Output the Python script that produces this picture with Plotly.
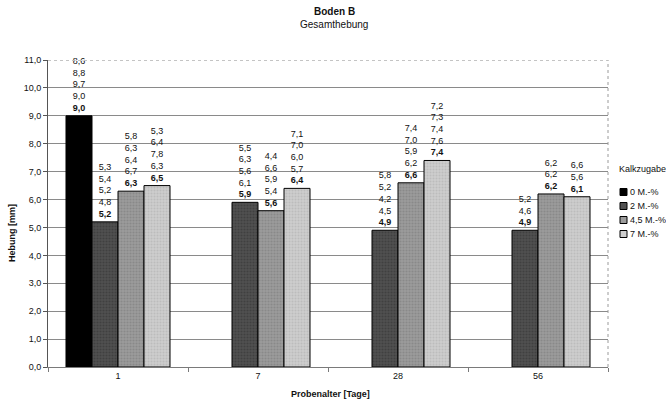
import plotly.graph_objects as go

# Probenalter (days) on the x axis
categories = ["1", "7", "28", "56"]

# Series: lime addition (Kalkzugabe)
series_names = ["0 M.-%", "2 M.-%", "4,5 M.-%", "7 M.-%"]

# Mean heave per series (bar heights, mm); None = no sample
mean_0 = [9.0, None, None, None]
mean_2 = [5.2, 5.9, 4.9, 4.9]
mean_45 = [6.3, 5.6, 6.6, 6.2]
mean_7 = [6.5, 6.4, 7.4, 6.1]

# Single measurements listed above each bar
single_0 = [[8.6, 8.8, 9.7, 9.0], None, None, None]
single_2 = [[5.3, 5.4, 5.2, 4.8], [5.5, 6.3, 5.6, 6.1], [5.8, 5.2, 4.2, 4.5], [5.2, 4.6]]
single_45 = [[5.8, 6.3, 6.4, 6.7], [4.4, 6.6, 5.9, 5.4], [7.4, 7.0, 5.9, 6.2], [6.2, 6.2]]
single_7 = [[5.3, 6.4, 7.8, 6.3], [7.1, 7.0, 6.0, 5.7], [7.2, 7.3, 7.4, 7.6], [6.6, 5.6]]

y_ticks = [float(v) for v in range(0, 12)]

means = [mean_0, mean_2, mean_45, mean_7]
singles = [single_0, single_2, single_45, single_7]
fills = ["#000000", "#505050", "#9c9c9c", "#cdcdcd"]
grain = ["#000000", "#303030", "#767676", "#acacac"]


def fmt(v):
    return f"{v:.1f}".replace(".", ",")


def bar_text(mean_list, single_list):
    out = []
    for m, s in zip(mean_list, single_list):
        if m is None:
            out.append("")
            continue
        lines = [fmt(v) for v in s] + [f"<b>{fmt(m)}</b>"]
        out.append("<br>".join(lines))
    return out


FONT = "Liberation Sans, Arial, sans-serif"

fig = go.Figure()
for name, m, s, col, g in zip(series_names, means, singles, fills, grain):
    fig.add_trace(go.Bar(
        name=name,
        x=categories,
        y=m,
        text=bar_text(m, s),
        textposition="outside",
        textangle=0,
        constraintext="none",
        cliponaxis=False,
        textfont=dict(family=FONT, size=9, color="#111111"),
        marker=dict(
            color=col,
            line=dict(color="#000000", width=1),
            pattern=dict(shape="." if col != "#000000" else "",
                         fgcolor=g, bgcolor=col, size=3, solidity=0.4),
        ),
        showlegend=False,
    ))

# Plot area in pixels
L, R, T, B = 48, 58, 60, 36
W, H = 666, 403
pw, ph = W - L - R, H - T - B


def px_x(px):
    return (px - L) / pw


def px_y(py):
    return (H - B - py) / ph


shapes = [
    # dotted right border and top edge of the plot area
    dict(type="line", xref="paper", yref="paper", x0=1, x1=1, y0=0, y1=1,
         line=dict(color="#9a9a9a", width=1, dash="dot")),
    dict(type="line", xref="paper", yref="y", x0=0, x1=1, y0=11, y1=11,
         line=dict(color="#ffffff", width=1.5)),
    dict(type="line", xref="paper", yref="y", x0=0, x1=1, y0=11, y1=11,
         line=dict(color="#8a8a8a", width=1, dash="dot")),
]

annotations = [
    dict(text="<b>Boden B</b>", xref="paper", yref="paper", x=px_x(334), y=px_y(12),
         showarrow=False, xanchor="center", yanchor="middle",
         font=dict(family=FONT, size=10, color="#111111")),
    dict(text="Gesamthebung", xref="paper", yref="paper", x=px_x(334), y=px_y(25),
         showarrow=False, xanchor="center", yanchor="middle",
         font=dict(family=FONT, size=10, color="#111111")),
    dict(text="<b>Probenalter [Tage]</b>", xref="paper", yref="paper", x=px_x(330), y=px_y(394),
         showarrow=False, xanchor="center", yanchor="middle",
         font=dict(family=FONT, size=9, color="#111111")),
    dict(text="<b>Hebung [mm]</b>", xref="paper", yref="paper", x=px_x(12), y=px_y(233),
         textangle=-90, showarrow=False, xanchor="center", yanchor="middle",
         font=dict(family=FONT, size=9, color="#111111")),
    dict(text="Kalkzugabe", xref="paper", yref="paper", x=px_x(617), y=px_y(169),
         showarrow=False, xanchor="left", yanchor="middle",
         font=dict(family=FONT, size=9, color="#111111")),
]

# Legend entries built from the series names and fills
legend_y = [192, 206, 220, 234]
for name, col, ly in zip(series_names, fills, legend_y):
    shapes.append(dict(type="rect", xref="paper", yref="paper",
                       x0=px_x(620), x1=px_x(627), y0=px_y(ly + 3.5), y1=px_y(ly - 3.5),
                       fillcolor=col, line=dict(color="#000000", width=1)))
    annotations.append(dict(text=name, xref="paper", yref="paper", x=px_x(628), y=px_y(ly),
                            showarrow=False, xanchor="left", yanchor="middle",
                            font=dict(family=FONT, size=9, color="#111111")))

fig.update_layout(
    width=W, height=H,
    margin=dict(l=L, r=R, t=T, b=B, pad=0),
    paper_bgcolor="white", plot_bgcolor="white",
    barmode="group", bargap=0.257, bargroupgap=0,
    separators=",.",
    font=dict(family=FONT, size=9, color="#111111"),
    xaxis=dict(
        type="category",
        showline=True, linecolor="#7a7a7a", linewidth=1,
        ticks="outside", tickson="boundaries", ticklen=4, tickcolor="#7a7a7a",
        showgrid=False,
        tickfont=dict(family=FONT, size=9),
    ),
    yaxis=dict(
        range=[0, 11], tickvals=y_ticks, tickformat=".1f",
        showline=True, linecolor="#555555", linewidth=1,
        ticks="outside", ticklen=4, tickcolor="#555555",
        showgrid=True, gridcolor="#8a8a8a", gridwidth=1,
        zeroline=False,
        tickfont=dict(family=FONT, size=9),
    ),
    shapes=shapes,
    annotations=annotations,
)

fig.write_html("out.html")
